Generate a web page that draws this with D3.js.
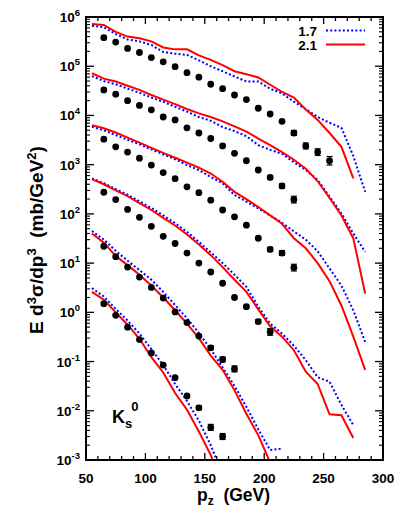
<!DOCTYPE html>
<html><head><meta charset="utf-8">
<script src="https://cdn.jsdelivr.net/npm/d3@7"></script>
<style>
body{margin:0;background:#fff}
svg{display:block}
text{font-family:"Liberation Sans",Arial,Helvetica,sans-serif;font-weight:bold;fill:#000;white-space:pre}
</style>
</head><body>
<svg id="c" width="407" height="518"></svg>
<script>
// ---- data ----
const pCurve = [55,65,75,85,95,105,115,125,135,145,155,165,175,185,195,205,215,225,235,245,255,265,275,285];
const pData  = [65,75,85,95,105,115,125,135,145,155,165,175,185,195,205,215,225,235,245,255];

const data1 = [3.8e5,3.1e5,2.3e5,1.9e5,1.5e5,1.23e5,9.8e4,7.4e4,6.0e4,4.3e4,3.5e4,2.6e4,2.1e4,1.4e4,1.07e4,7.6e3,4.4e3,2.4e3,1.8e3,1.2e3];
const err1  = [0,0,0,0,0,0,0,0,0,0,0,0,0,0,0,0.06,0.12,0.15,0.17,0.22];
const data2 = [3.3e4,2.7e4,2.0e4,1.6e4,1.3e4,9.3e3,8.1e3,5.6e3,4.4e3,3.4e3,2.4e3,1.7e3,1.2e3,780,550,370,195];
const err2  = [0,0,0,0,0,0,0,0,0,0,0,0,0,0,0.07,0.1,0.17];
const data3 = [3300,2300,1800,1350,980,690,520,355,270,190,120,87,59,32,19,16,8.1];
const err3  = [0,0,0,0,0,0,0,0,0,0,0,0,0,0.06,0.1,0.12,0.17];
const data4 = [275,195,123,85,56,35,25,16,10,6.6,3.9,2.0,1.3,0.65,0.40];
const err4  = [0,0,0,0,0,0,0,0,0,0,0,0,0.06,0.1,0.17];
const data5 = [22,13.5,8.3,5.2,3.2,1.95,1.02,0.62,0.33,0.19,0.11,0.071];
const err5  = [0,0,0,0,0,0,0,0,0.05,0.1,0.12,0.15];
const data6 = [1.5,0.87,0.50,0.28,0.15,0.085,0.047,0.020,0.0115,0.0046,0.0030];
const err6  = [0,0,0,0,0,0,0,0.06,0.1,0.15,0.15];

// model curves, parameter 1.7 (blue dotted) and 2.1 (red solid)
const c17_1 = [6.6e5,6.2e5,4.5e5,3.5e5,3.2e5,2.7e5,1.95e5,1.8e5,1.7e5,1.32e5,1.0e5,7.9e4,6.2e4,4.9e4,4.9e4,3.5e4,2.8e4,1.9e4,1.35e4,9.3e3,7.1e3,5.6e3,1.5e3,280];
const c21_1 = [7.2e5,6.9e5,5.0e5,4.0e5,3.7e5,3.2e5,2.4e5,2.2e5,2.2e5,1.66e5,1.35e5,1.05e5,7.9e4,6.9e4,5.9e4,4.2e4,3.0e4,2.3e4,1.32e4,8.1e3,4.4e3,2.3e3,525];
const c17_2 = [6.3e4,5.0e4,4.3e4,3.5e4,2.9e4,2.3e4,1.9e4,1.5e4,1.2e4,9.3e3,7.8e3,5.8e3,4.8e3,3.8e3,2.5e3,2.0e3,1.66e3,1.12e3,780,490,225,102,40,17];
const c21_2 = [7.2e4,5.6e4,4.9e4,4.0e4,3.3e4,2.6e4,2.1e4,1.7e4,1.35e4,1.1e4,9.3e3,7.6e3,6.0e3,4.7e3,3.4e3,2.5e3,1.8e3,1.26e3,830,460,210,93,32,2.4];
const c17_3 = [5900,5000,4000,3200,2600,2040,1620,1290,980,780,560,420,240,178,129,93,66,44,30,17.4,7.8,3.5,1.1,0.25];
const c21_3 = [6300,5500,4500,3550,2800,2200,1740,1380,1100,870,660,450,280,200,138,93,63,32,20,10,4.3,1.38,0.32,0.068];
const c17_4 = [525,420,320,245,180,132,93,65,43,27,16.6,10,5.8,3.3,1.3,0.59,0.37,0.21,0.107,0.048,0.039,0.0132,0.0051];
const c21_4 = [510,400,300,230,166,120,83,58,38,24,14.5,8.3,4.6,2.6,1.15,0.52,0.32,0.17,0.062,0.035,0.0085,0.0081,0.0028];
const c17_5 = [45,30,17.8,11.2,7.2,4.6,2.6,1.4,0.76,0.38,0.178,0.076,0.032,0.012,0.0042,0.0016,0.0017];
const c21_5 = [40,26,14,9.1,5.8,3.5,2.0,1.1,0.59,0.30,0.132,0.068,0.026,0.0087,0.0032,0.00089];
const c17_6 = [3.1,2.1,1.17,0.68,0.37,0.178,0.085,0.035,0.0158,0.0063,0.0020,0.0005];
const c21_6 = [2.6,1.8,1.0,0.56,0.29,0.123,0.060,0.023,0.0105,0.0038,0.00126,0.00032];

const xTicks = [50,100,150,200,250,300];
const yExponents = [6,5,4,3,2,1,0,-1,-2,-3];
const legendLabels = ["1.7","2.1"];

// ---- layout ----
const L=86, R=383, T=17, B=460;
const svg = d3.select("#c");
const x = d3.scaleLinear().domain([50,300]).range([L,R]);
const y = d3.scaleLog().domain([1e-3,1e6]).range([B,T]);

svg.append("clipPath").attr("id","clip").append("rect")
  .attr("x",L).attr("y",T).attr("width",R-L).attr("height",B-T);

const plot = svg.append("g").attr("clip-path","url(#clip)");
const line = d3.line().x((d,i)=>x(pCurve[i])).y(d=>y(d));

const blueSets=[c17_1,c17_2,c17_3,c17_4,c17_5,c17_6];
const redSets=[c21_1,c21_2,c21_3,c21_4,c21_5,c21_6];
blueSets.forEach(s=>plot.append("path").attr("d",line(s)).attr("fill","none")
  .attr("stroke","#0000ff").attr("stroke-width",2).attr("stroke-dasharray","2,2.2"));
redSets.forEach(s=>plot.append("path").attr("d",line(s)).attr("fill","none")
  .attr("stroke","#ff0000").attr("stroke-width",2));

const dataSets=[[data1,err1],[data2,err2],[data3,err3],[data4,err4],[data5,err5],[data6,err6]];
dataSets.forEach(([vals,errs])=>{
  vals.forEach((v,i)=>{
    const cx=x(pData[i]), cy=y(v), e=errs[i];
    if(e>0){
      const y1=y(v*(1+e)), y2=y(v/(1+e));
      plot.append("line").attr("x1",cx).attr("x2",cx).attr("y1",y1).attr("y2",y2).attr("stroke","#000").attr("stroke-width",1.2);
      [y1,y2].forEach(yy=>plot.append("line").attr("x1",cx-3).attr("x2",cx+3).attr("y1",yy).attr("y2",yy).attr("stroke","#000").attr("stroke-width",1.2));
    }
    plot.append("circle").attr("cx",cx).attr("cy",cy).attr("r",3.4).attr("fill","#000");
  });
});

// ---- axes / ticks ----
const ax = svg.append("g").attr("stroke","#000");
for(let v=50; v<=300; v+=10){
  const major = v%50===0, len = major?7:4;
  ax.append("line").attr("x1",x(v)).attr("x2",x(v)).attr("y1",B).attr("y2",B-len).attr("stroke-width",1.3);
  ax.append("line").attr("x1",x(v)).attr("x2",x(v)).attr("y1",T).attr("y2",T+len).attr("stroke-width",1.3);
}
yExponents.forEach(e=>{
  const base=Math.pow(10,e);
  ax.append("line").attr("x1",L).attr("x2",L+8).attr("y1",y(base)).attr("y2",y(base)).attr("stroke-width",1.3);
  ax.append("line").attr("x1",R).attr("x2",R-8).attr("y1",y(base)).attr("y2",y(base)).attr("stroke-width",1.3);
  if(e<6){
    for(let k=2;k<=9;k++){
      const yy=y(base*k);
      ax.append("line").attr("x1",L).attr("x2",L+4).attr("y1",yy).attr("y2",yy).attr("stroke-width",1.1);
      ax.append("line").attr("x1",R).attr("x2",R-4).attr("y1",yy).attr("y2",yy).attr("stroke-width",1.1);
    }
  }
});
svg.append("rect").attr("x",L).attr("y",T).attr("width",R-L).attr("height",B-T)
  .attr("fill","none").attr("stroke","#000").attr("stroke-width",2);

// tick labels
xTicks.forEach(v=>svg.append("text").attr("x",x(v)).attr("y",483).attr("text-anchor","middle")
  .attr("font-size",13.5).text(v));
yExponents.forEach(e=>{
  const t=svg.append("text").attr("x",80).attr("y",y(Math.pow(10,e))+5).attr("text-anchor","end").attr("font-size",13.5);
  t.append("tspan").text("10");
  t.append("tspan").attr("dy",-6).attr("font-size",9.5).text(String(e));
});

// axis titles
const xt=svg.append("text").attr("x",197).attr("y",501).attr("font-size",17.5);
xt.append("tspan").text("p");
xt.append("tspan").attr("dy",4).attr("font-size",12).text("z");
xt.append("tspan").attr("dy",-4).text("  (GeV)");

const yt=svg.append("text").attr("transform","translate(43,240) rotate(-90)").attr("text-anchor","middle").attr("font-size",19);
yt.append("tspan").text("E d");
yt.append("tspan").attr("dy",-7).attr("font-size",13).text("3");
yt.append("tspan").attr("dy",7).text("σ/dp");
yt.append("tspan").attr("dy",-7).attr("font-size",13).text("3");
yt.append("tspan").attr("dy",7).text("  (mb/GeV");
yt.append("tspan").attr("dy",-7).attr("font-size",13).text("2");
yt.append("tspan").attr("dy",7).text(")");

// K_s^0 label
const kt=svg.append("text").attr("x",112).attr("y",423).attr("font-size",18);
kt.append("tspan").text("K");
kt.append("tspan").attr("dy",5).attr("font-size",13).text("s");
kt.append("tspan").attr("dx",-1).attr("dy",-17).attr("font-size",13).text("0");

// legend
const lg=[{label:legendLabels[0],color:"#0000ff",dash:"2,2.2",y:30.5},{label:legendLabels[1],color:"#ff0000",dash:null,y:44.5}];
lg.forEach(d=>{
  svg.append("text").attr("x",317).attr("y",d.y+5).attr("text-anchor","end").attr("font-size",13.5).text(d.label);
  const l=svg.append("line").attr("x1",326).attr("x2",365).attr("y1",d.y).attr("y2",d.y)
    .attr("stroke",d.color).attr("stroke-width",2);
  if(d.dash) l.attr("stroke-dasharray",d.dash);
});
</script>
</body></html>
